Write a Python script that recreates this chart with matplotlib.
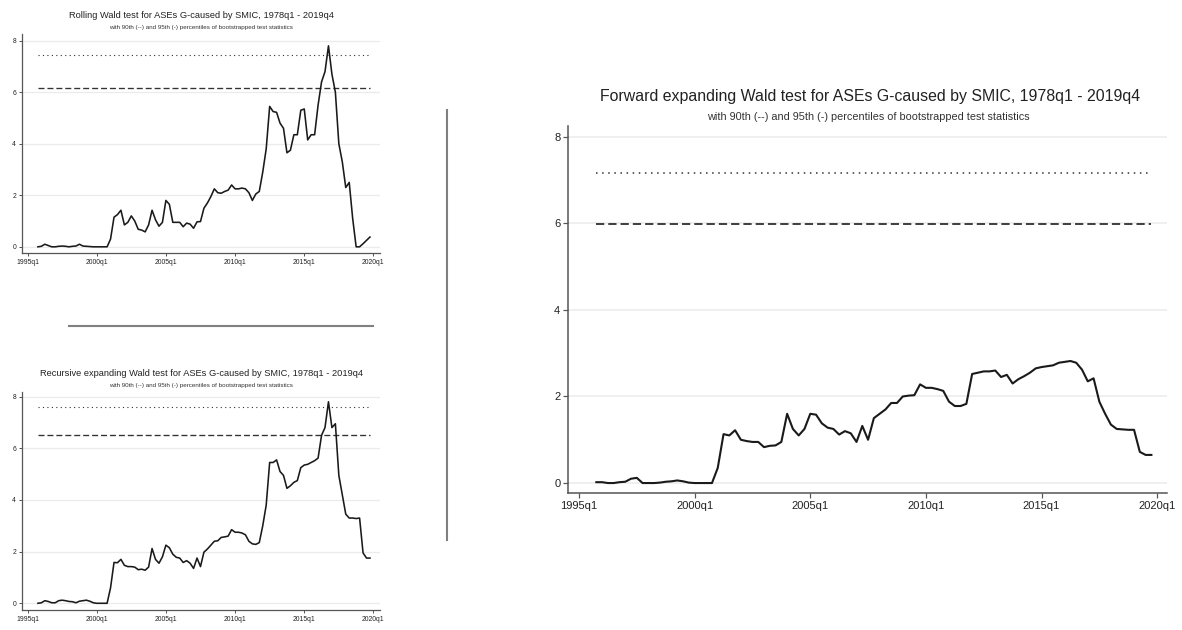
import numpy as np
import matplotlib
matplotlib.use("Agg")
import matplotlib.pyplot as plt
from matplotlib.lines import Line2D

plt.rcParams['font.family'] = ['Liberation Sans', 'DejaVu Sans']

# ---------------- data ----------------
start_label = "1995q4"          # first observation
tick_labels = ["1995q1", "2000q1", "2005q1", "2010q1", "2015q1", "2020q1"]

rolling = [0.00,
           0.02, 0.10, 0.05, 0.00,
           0.00, 0.02, 0.03, 0.02,
           0.00, 0.02, 0.03, 0.10,
           0.03, 0.02, 0.01, 0.00,
           0.00, 0.00, 0.00, 0.00,
           0.30, 1.15, 1.25, 1.42,
           0.85, 0.95, 1.20, 1.00,
           0.68, 0.65, 0.58, 0.85,
           1.42, 1.05, 0.80, 0.95,
           1.80, 1.65, 0.95, 0.95,
           0.95, 0.78, 0.92, 0.88,
           0.72, 0.97, 0.98, 1.50,
           1.70, 1.95, 2.25, 2.10,
           2.08, 2.15, 2.20, 2.40,
           2.25, 2.25, 2.28, 2.25,
           2.10, 1.80, 2.05, 2.15,
           2.90, 3.80, 5.45, 5.25,
           5.22, 4.80, 4.60, 3.65,
           3.75, 4.35, 4.35, 5.30,
           5.35, 4.15, 4.35, 4.35,
           5.50, 6.40, 6.80, 7.80,
           6.70, 6.00, 4.00, 3.30,
           2.30, 2.50, 1.10, 0.00,
           0.00, 0.12, 0.25, 0.38]

recursive = [0.00,
             0.02, 0.10, 0.07, 0.02,
             0.02, 0.10, 0.12, 0.10,
             0.07, 0.06, 0.02, 0.08,
             0.10, 0.12, 0.08, 0.02,
             0.00, 0.00, 0.00, 0.00,
             0.60, 1.58, 1.57, 1.70,
             1.47, 1.42, 1.42, 1.40,
             1.30, 1.32, 1.28, 1.40,
             2.12, 1.70, 1.55, 1.80,
             2.25, 2.15, 1.90, 1.78,
             1.75, 1.58, 1.65, 1.55,
             1.35, 1.75, 1.42, 1.98,
             2.10, 2.25, 2.40, 2.42,
             2.55, 2.57, 2.60, 2.85,
             2.75, 2.75, 2.72, 2.65,
             2.40, 2.30, 2.28, 2.35,
             3.00, 3.80, 5.45, 5.45,
             5.55, 5.10, 4.95, 4.45,
             4.55, 4.68, 4.75, 5.25,
             5.35, 5.38, 5.45, 5.52,
             5.62, 6.50, 6.80, 7.80,
             6.80, 6.95, 4.95, 4.20,
             3.45, 3.30, 3.30, 3.28,
             3.30, 1.95, 1.75, 1.75]

forward = [0.02,
           0.02, 0.00, 0.00, 0.02,
           0.03, 0.10, 0.12, 0.00,
           0.00, 0.00, 0.01, 0.03,
           0.04, 0.06, 0.04, 0.01,
           0.00, 0.00, 0.00, 0.00,
           0.35, 1.13, 1.10, 1.22,
           1.00, 0.97, 0.95, 0.95,
           0.83, 0.86, 0.87, 0.95,
           1.60, 1.25, 1.10, 1.25,
           1.60, 1.58, 1.38, 1.28,
           1.25, 1.12, 1.20, 1.15,
           0.95, 1.32, 1.00, 1.50,
           1.60, 1.70, 1.85, 1.85,
           2.00, 2.02, 2.03, 2.28,
           2.20, 2.20, 2.17, 2.13,
           1.88, 1.78, 1.78, 1.83,
           2.52, 2.55, 2.58, 2.58,
           2.60, 2.45, 2.50, 2.30,
           2.40, 2.47, 2.55, 2.65,
           2.68, 2.70, 2.72, 2.78,
           2.80, 2.82, 2.78, 2.62,
           2.35, 2.42, 1.88, 1.60,
           1.35, 1.25, 1.24, 1.23,
           1.23, 0.72, 0.65, 0.65]

rolling_p90, rolling_p95 = 6.18, 7.46
recursive_p90, recursive_p95 = 6.50, 7.59
forward_p90, forward_p95 = 5.98, 7.16

titles = ["Rolling Wald test for ASEs G-caused by SMIC, 1978q1 - 2019q4",
          "Recursive expanding Wald test for ASEs G-caused by SMIC, 1978q1 - 2019q4",
          "Forward expanding Wald test for ASEs G-caused by SMIC, 1978q1 - 2019q4"]
subtitle = "with 90th (--) and 95th (-) percentiles of bootstrapped test statistics"

# quarter index relative to 1995q1
def qindex(lbl):
    y, q = lbl.split("q")
    return (int(y) - 1995) * 4 + int(q) - 1

x0 = qindex(start_label)
W, H = 1182, 630
fig = plt.figure(figsize=(W / 100, H / 100), dpi=100)


def px_ax(l, r, t, b):
    return fig.add_axes([l / W, 1 - b / H, (r - l) / W, (b - t) / H])


def draw_panel(ax, vals, p90, p95, ylim, xlim, fs_tick, lw_line, lw_thr, ticklen, spine_lw):
    x = x0 + np.arange(len(vals))
    for yv in [0, 2, 4, 6, 8]:
        ax.axhline(yv, color='#ebebeb', lw=spine_lw, zorder=0)
    ax.hlines(p95, x[0], x[-1], colors='#333333', lw=lw_thr, linestyles=(0, (1, 3.0)))
    ax.hlines(p90, x[0], x[-1], colors='#333333', lw=lw_thr * 1.2, linestyles=(0, (4.5, 2.2)))
    ax.plot(x, vals, color='#1a1a1a', lw=lw_line, solid_joinstyle='round')
    ax.set_xlim(*xlim)
    ax.set_ylim(*ylim)
    ax.set_yticks([0, 2, 4, 6, 8])
    ax.set_yticklabels(['0', '2', '4', '6', '8'])
    ax.set_xticks([qindex(t) for t in tick_labels])
    ax.set_xticklabels(tick_labels)
    for s in ['top', 'right']:
        ax.spines[s].set_visible(False)
    for s in ['left', 'bottom']:
        ax.spines[s].set_color('#555555')
        ax.spines[s].set_linewidth(spine_lw)
    ax.tick_params(axis='both', direction='out', length=ticklen, width=spine_lw * 0.8,
                   color='#555555', labelsize=fs_tick, labelcolor='#222222', pad=2)
    ax.set_facecolor('white')


# Rolling (top-left)
ax1 = px_ax(22, 380, 34, 253)
draw_panel(ax1, rolling, rolling_p90, rolling_p95, (-0.24, 8.26), (-1.6, 101.9),
           4.9, 1.15, 0.8, 2.2, 0.9)
fig.text(201 / W, 1 - 15 / H, titles[0], ha='center', va='center', fontsize=6.7, color='#222222')
fig.text(201 / W, 1 - 27 / H, subtitle, ha='center', va='center', fontsize=4.5, color='#333333')

# Recursive (bottom-left)
ax2 = px_ax(22, 380, 391.7, 610)
draw_panel(ax2, recursive, recursive_p90, recursive_p95, (-0.26, 8.19), (-1.6, 101.9),
           4.9, 1.15, 0.8, 2.2, 0.9)
fig.text(201 / W, 1 - 373 / H, titles[1], ha='center', va='center', fontsize=6.7, color='#222222')
fig.text(201 / W, 1 - 385 / H, subtitle, ha='center', va='center', fontsize=4.5, color='#333333')

# Forward (right)
ax3 = px_ax(568, 1167, 126, 493)
draw_panel(ax3, forward, forward_p90, forward_p95, (-0.23, 8.25), (-1.9, 101.7),
           8.0, 1.5, 1.1, 3.5, 1.1)
fig.text(870 / W, 1 - 96 / H, titles[2], ha='center', va='center', fontsize=11.4, color='#222222')
fig.text(868 / W, 1 - 117 / H, subtitle, ha='center', va='center', fontsize=7.8, color='#333333')

# separator lines
fig.add_artist(Line2D([447 / W, 447 / W], [1 - 110 / H, 1 - 540 / H], color='#808080', lw=1.5))
fig.add_artist(Line2D([69 / W, 373 / W], [1 - 326 / H, 1 - 326 / H], color='#808080', lw=1.5))

fig.savefig("out.png", dpi=100, facecolor='white')
